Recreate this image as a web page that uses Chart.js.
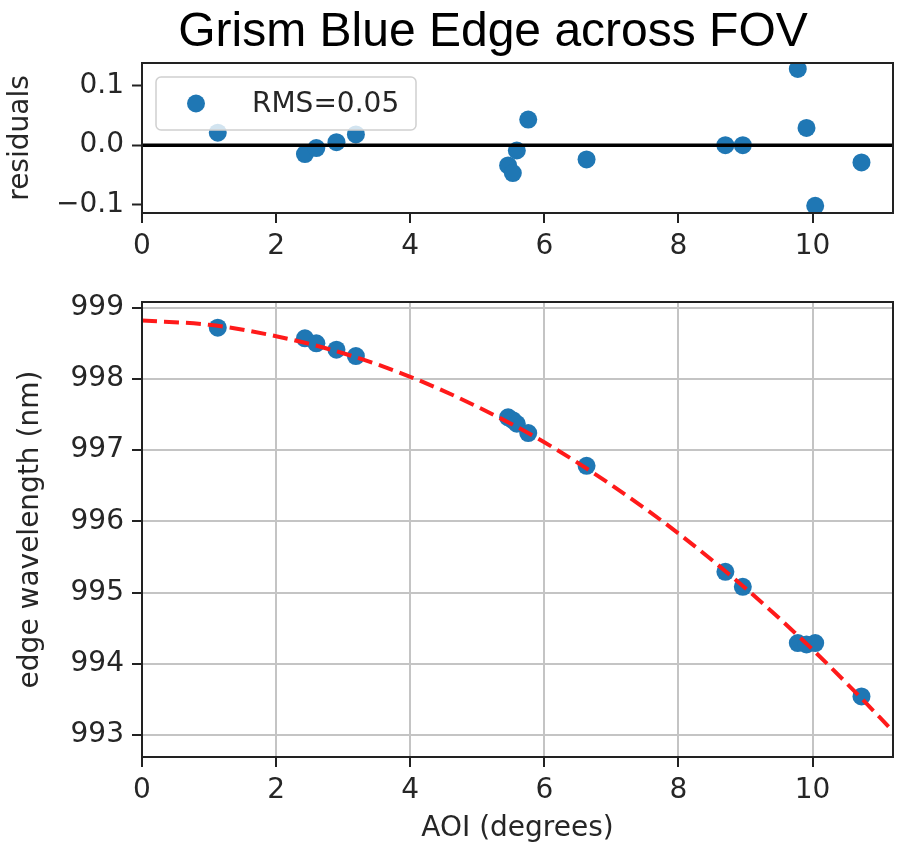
<!DOCTYPE html>
<html>
<head>
<meta charset="utf-8">
<script src="https://cdn.jsdelivr.net/npm/chart.js@4.4.1/dist/chart.umd.min.js"></script>
<style>
  html, body { margin: 0; padding: 0; background: #fff; }
  #page { position: relative; width: 902px; height: 850px; overflow: hidden; }
  #title {
    position: absolute; left: 0; top: 3px; width: 986px; text-align: center;
    font-family: "Liberation Sans", Arial, sans-serif; font-size: 48px; color: #000;
    line-height: 54px; white-space: nowrap;
  }
  #resid-wrap { position: absolute; left: 0; top: 0; }
  #edge-wrap { position: absolute; left: 0; top: 262px; }
</style>
</head>
<body>
<div id="page">
  <div id="resid-wrap"><canvas id="resid" width="902" height="262"></canvas></div>
  <div id="edge-wrap"><canvas id="edge" width="902" height="588"></canvas></div>
  <div id="title">Grism Blue Edge across FOV</div>
</div>
<script>
// measured points
const aoi = [1.13, 2.43, 2.60, 2.90, 3.19, 5.46, 5.53, 5.59, 5.76, 6.63, 8.70, 8.96, 9.78, 9.91, 10.04, 10.73];
const edgeWavelength = [998.72, 998.57, 998.50, 998.41, 998.32, 997.46, 997.42, 997.37, 997.24, 996.78, 995.29, 995.08, 994.29, 994.27, 994.29, 993.54];
const residuals = [0.021, -0.015, -0.005, 0.005, 0.018, -0.034, -0.047, -0.009, 0.043, -0.024, 0.0, 0.0, 0.128, 0.029, -0.102, -0.029];
const rmsLabel = 'RMS=0.05';

// fitted curve, sampled along AOI
const fitAoi = [0, 1, 2, 3, 4, 5, 6, 7, 8, 9, 10, 11, 11.2];
const fitWavelength = [998.82, 998.76, 998.60, 998.36, 998.03, 997.61, 997.11, 996.51, 995.83, 995.06, 994.20, 993.25, 993.05];

// axis limits and ticks
const aoiRange = [0, 11.2];
const aoiTicks = [0, 2, 4, 6, 8, 10];
const residRange = [-0.114, 0.138];
const residTicks = [-0.1, 0.0, 0.1];
const edgeRange = [992.69, 999.08];
const edgeTicks = [993, 994, 995, 996, 997, 998, 999];

const BLUE = '#1f77b4';
const FONT = { family: 'DejaVu Sans', size: 28 };
const TEXT = '#262626';

const pts = (xs, ys) => xs.map((x, i) => ({ x: x, y: ys[i] }));
const fixTicks = (vals) => (scale) => { scale.ticks = vals.map(v => ({ value: v })); };

// box around the plot area, like matplotlib spines
const frame = {
  id: 'frame',
  afterDraw(chart) {
    const { ctx, chartArea: a } = chart;
    ctx.save();
    ctx.strokeStyle = '#222';
    ctx.lineWidth = 2;
    ctx.strokeRect(a.left, a.top, a.right - a.left, a.bottom - a.top);
    ctx.restore();
  }
};

// semi-transparent legend drawn inside the axes
const insetLegend = {
  id: 'insetLegend',
  afterDatasetsDraw(chart) {
    const ds = chart.data.datasets.find(d => d.label);
    if (!ds) return;
    const { ctx, chartArea: a } = chart;
    const x = a.left + 14, y = a.top + 14, w = 260, h = 53;
    ctx.save();
    ctx.beginPath();
    ctx.roundRect(x, y, w, h, 5);
    ctx.fillStyle = 'rgba(255,255,255,0.8)';
    ctx.fill();
    ctx.strokeStyle = '#d0d0d0';
    ctx.lineWidth = 1.5;
    ctx.stroke();
    ctx.beginPath();
    ctx.arc(x + 40, y + h / 2, ds.pointRadius, 0, Math.PI * 2);
    ctx.fillStyle = ds.backgroundColor;
    ctx.fill();
    ctx.fillStyle = TEXT;
    ctx.font = FONT.size + 'px ' + FONT.family;
    ctx.textBaseline = 'middle';
    ctx.fillText(ds.label, x + 96, y + h / 2 + 1);
    ctx.restore();
  }
};

function xAxis(height, grid) {
  return {
    type: 'linear',
    min: aoiRange[0],
    max: aoiRange[1],
    afterBuildTicks: fixTicks(aoiTicks),
    afterFit: (s) => { s.height = height; },
    border: { display: false },
    grid: { display: true, drawOnChartArea: grid, color: '#c4c4c4', lineWidth: 2, tickColor: '#222', tickLength: 10, tickWidth: 2 },
    ticks: { color: TEXT, font: FONT, padding: 7, maxRotation: 0 }
  };
}

new Chart(document.getElementById('resid'), {
  type: 'scatter',
  data: {
    datasets: [
      {
        type: 'line',
        data: pts(aoiRange, [0, 0]),
        borderColor: '#000',
        borderWidth: 3.5,
        pointRadius: 0,
        order: 0
      },
      {
        label: rmsLabel,
        data: pts(aoi, residuals),
        backgroundColor: BLUE,
        borderColor: BLUE,
        borderWidth: 0,
        pointRadius: 9,
        order: 1
      }
    ]
  },
  options: {
    responsive: false,
    animation: false,
    layout: { padding: { top: 63, right: 5, left: 0, bottom: 0 } },
    plugins: { legend: { display: false }, tooltip: { enabled: false } },
    scales: {
      x: xAxis(49, false),
      y: {
        type: 'linear',
        min: residRange[0],
        max: residRange[1],
        afterBuildTicks: fixTicks(residTicks),
        afterFit: (s) => { s.width = 142; },
        border: { display: false },
        grid: { drawOnChartArea: false, tickColor: '#222', tickLength: 10, tickWidth: 2 },
        ticks: {
          color: TEXT, font: FONT, padding: 8,
          callback: (v) => v.toFixed(1).replace('-', '\u2212')
        },
        title: { display: true, text: 'residuals', color: TEXT, font: FONT, padding: { top: 4 } }
      }
    }
  },
  plugins: [frame, insetLegend]
});

new Chart(document.getElementById('edge'), {
  type: 'scatter',
  data: {
    datasets: [
      {
        type: 'line',
        data: pts(fitAoi, fitWavelength),
        borderColor: '#ff1a1a',
        borderWidth: 4,
        borderDash: [15, 7],
        cubicInterpolationMode: 'monotone',
        pointRadius: 0,
        order: 0
      },
      {
        data: pts(aoi, edgeWavelength),
        backgroundColor: BLUE,
        borderColor: BLUE,
        borderWidth: 0,
        pointRadius: 9,
        order: 1
      }
    ]
  },
  options: {
    responsive: false,
    animation: false,
    layout: { padding: { top: 40, right: 5, left: 0, bottom: 0 } },
    plugins: { legend: { display: false }, tooltip: { enabled: false } },
    scales: {
      x: Object.assign(xAxis(93, true), {
        title: { display: true, text: 'AOI (degrees)', color: TEXT, font: FONT, padding: { top: 0, bottom: 4 } }
      }),
      y: {
        type: 'linear',
        min: edgeRange[0],
        max: edgeRange[1],
        afterBuildTicks: fixTicks(edgeTicks),
        afterFit: (s) => { s.width = 142; },
        border: { display: false },
        grid: { color: '#c4c4c4', lineWidth: 2, tickColor: '#222', tickLength: 10, tickWidth: 2 },
        ticks: { color: TEXT, font: FONT, padding: 8, callback: (v) => String(v) },
        title: { display: true, text: 'edge wavelength (nm)', color: TEXT, font: FONT, padding: { top: 14 } }
      }
    }
  },
  plugins: [frame]
});
</script>
</body>
</html>
